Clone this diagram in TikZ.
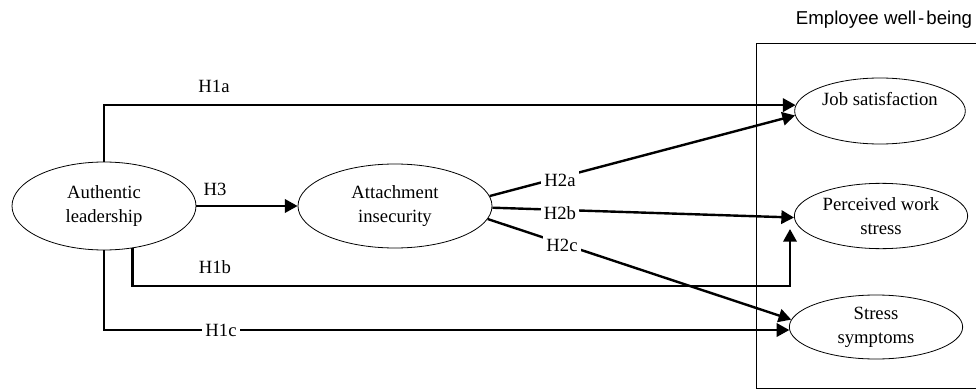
\documentclass[tikz,border=0pt]{standalone}
\usepackage{fontspec}
\setmainfont{Liberation Serif}
\newfontfamily\arialfont{Liberation Sans}
\usetikzlibrary{shapes.geometric,arrows.meta}
\begin{document}
\begin{tikzpicture}[x=0.75pt,y=-0.75pt,
  ell/.style={ellipse,draw,line width=0.6pt,fill=white,inner sep=0pt,align=center,
    font=\fontsize{14pt}{18pt}\selectfont},
  arr/.style={line width=1.8pt,-{Triangle[length=9.5pt,width=10pt]}},
  lab/.style={inner sep=2.5pt,font=\fontsize{14pt}{18pt}\selectfont},
  wlab/.style={lab,fill=white}]
\useasboundingbox[fill=white] (0,0) rectangle (976,389);
% frame
\coordinate (ftr) at (977,43);
\coordinate (fbl) at (756,388);
\coordinate (fbr) at (977,388);
\draw[line width=0.6pt] (ftr) -| (fbl) -- (fbr);
\node[font=\arialfont\fontsize{14pt}{18pt}\selectfont] (ewb) at (884,20) {Employee well\kern1.5pt-\kern1.5pt being};
% nodes
\node[ell,minimum width=138pt,minimum height=66pt] (al) at (104,206) {Authentic\\leadership};
\node[ell,minimum width=145.5pt,minimum height=63pt] (att) at (395,206) {Attachment\\insecurity};
\node[ell,minimum width=128pt,minimum height=49.5pt] (job) at (880,111) {Job satisfaction\\\mbox{}};
\node[ell,minimum width=130pt,minimum height=49pt] (pws) at (881,216) {Perceived work\\stress};
\node[ell,minimum width=130pt,minimum height=48pt] (ss) at (876,327) {Stress\\symptoms};
% connectors
\coordinate (h1bc) at (790,286);
\coordinate (h1be) at (790,229);
\draw[arr] (al.north) |- (job.176);
\draw[arr] (al.east) -- (att.west);
\draw[arr] (al.-56) |- (h1bc) -- (h1be);
\draw[arr] (al.south) |- (ss.182);
\draw[arr] (att.6) -- (job.183);
\draw[arr] (att.-1) -- (pws.181);
\draw[arr] (att.-8) -- (ss.175);
% labels
\node[lab] (h1a) at (214,86) {H1a};
\node[lab] (h3) at (215,189) {H3};
\node[lab] (h1b) at (215,267) {H1b};
\node[wlab] (h1c) at (221,330) {H1c};
\node[wlab] (h2a) at (560,180) {H2a};
\node[wlab] (h2b) at (560,213) {H2b};
\node[wlab] (h2c) at (562,245) {H2c};
\end{tikzpicture}
\end{document}
